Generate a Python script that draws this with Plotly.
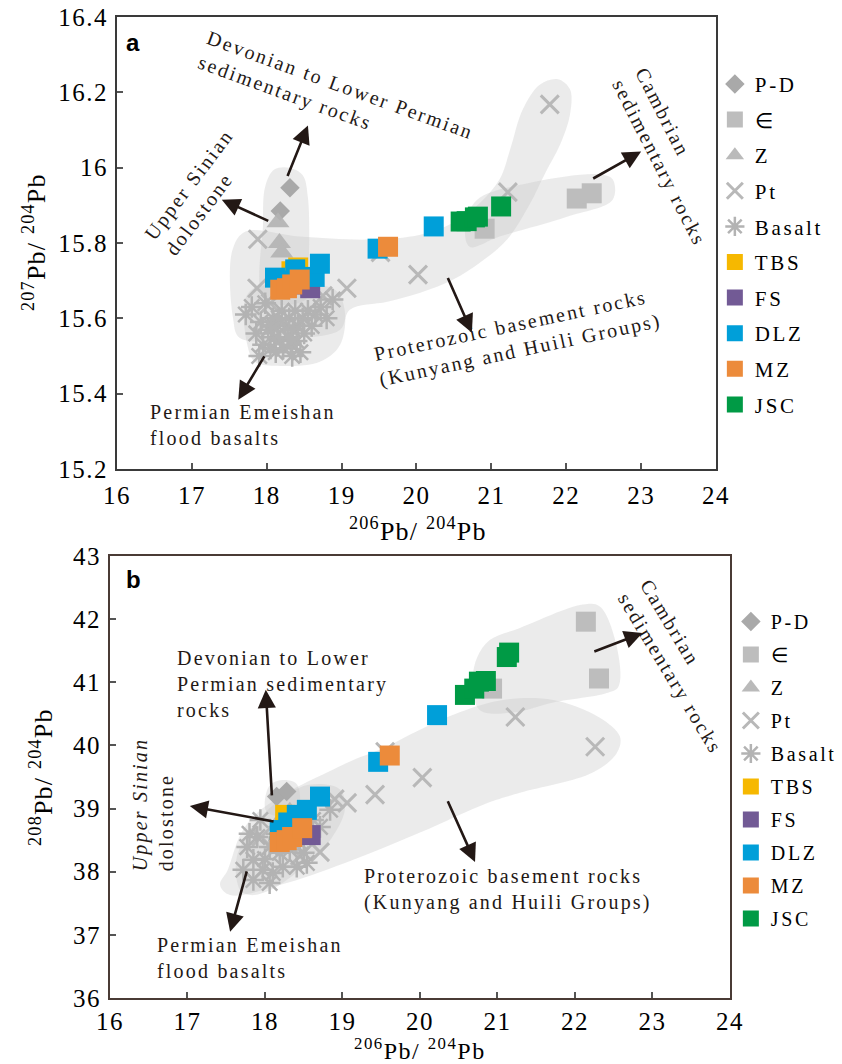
import plotly.graph_objects as go

FONT = "Liberation Serif"
INK = "#231815"

# ---------------- data: panel a (207Pb/204Pb vs 206Pb/204Pb) ----------------
PD_A_X = [18.31, 18.18]
PD_A_Y = [15.947, 15.885]
CAM_A_X = [20.91, 22.14, 22.34]
CAM_A_Y = [15.838, 15.918, 15.932]
Z_A_X = [18.15, 18.17, 18.20]
Z_A_Y = [15.855, 15.800, 15.775]
PT_A_X = [17.88, 17.87, 18.05, 18.75, 19.07, 19.52, 20.02, 21.22, 21.78]
PT_A_Y = [15.81, 15.68, 15.64, 15.66, 15.68, 15.775, 15.716, 15.935, 16.168]
BAS_A_X = [17.72, 17.80, 17.86, 17.92, 17.95, 17.98, 18.02, 18.05, 18.08, 18.10, 18.12, 18.15,
           18.18, 18.20, 18.22, 18.25, 18.28, 18.30, 18.32, 18.35, 18.38, 18.40, 18.42, 18.45,
           18.48, 18.50, 18.55, 18.60, 18.65, 18.72, 18.80, 18.88, 17.90, 18.06, 18.16, 18.34]
BAS_A_Y = [15.61, 15.63, 15.56, 15.59, 15.53, 15.64, 15.57, 15.52, 15.60, 15.55, 15.51, 15.58,
           15.54, 15.62, 15.52, 15.58, 15.55, 15.60, 15.53, 15.57, 15.62, 15.54, 15.58, 15.51,
           15.60, 15.56, 15.62, 15.58, 15.61, 15.63, 15.60, 15.65, 15.50, 15.58, 15.60, 15.50]
TBS_A_X = [18.33, 18.42]
TBS_A_Y = [15.725, 15.735]
FS_A_X = [18.52, 18.58]
FS_A_Y = [15.69, 15.68]
DLZ_A_X = [18.11, 18.25, 18.38, 18.64, 18.71, 19.48, 20.23]
DLZ_A_Y = [15.708, 15.70, 15.73, 15.71, 15.745, 15.785, 15.844]
MZ_A_X = [18.18, 18.27, 18.34, 18.44, 19.62]
MZ_A_Y = [15.676, 15.68, 15.69, 15.703, 15.79]
JSC_A_X = [20.59, 20.67, 20.78, 20.82, 21.13]
JSC_A_Y = [15.857, 15.858, 15.868, 15.870, 15.897]

# ---------------- data: panel b (208Pb/204Pb vs 206Pb/204Pb) ----------------
PD_B_X = [18.15, 18.28]
PD_B_Y = [39.19, 39.27]
CAM_B_X = [20.93, 22.14, 22.31]
CAM_B_Y = [40.90, 41.96, 41.06]
Z_B_X = [18.22, 18.32]
Z_B_Y = [38.85, 38.95]
PT_B_X = [17.95, 18.45, 18.71, 18.90, 19.06, 19.42, 19.55, 20.03, 21.23, 22.26]
PT_B_Y = [38.55, 38.25, 38.31, 39.15, 39.09, 39.22, 39.90, 39.49, 40.45, 39.98]
BAS_B_X = [17.72, 17.85, 17.90, 18.06, 18.19, 17.97, 17.85, 18.10, 18.32, 18.45, 18.54, 18.41,
           17.94, 17.77, 18.23, 18.06, 18.71, 18.62, 18.84, 17.80, 18.00, 18.15, 18.28, 18.50]
BAS_B_Y = [38.03, 38.19, 38.55, 38.39, 38.30, 38.03, 37.87, 37.98, 38.35, 38.46, 38.14, 38.08,
           38.82, 38.39, 38.08, 37.82, 38.71, 38.82, 38.98, 38.60, 38.20, 38.60, 38.65, 38.30]
TBS_B_X = [18.26]
TBS_B_Y = [38.90]
FS_B_X = [18.59]
FS_B_Y = [38.58]
DLZ_B_X = [18.19, 18.30, 18.41, 18.54, 18.71, 19.46, 20.22]
DLZ_B_Y = [38.66, 38.78, 38.90, 38.98, 39.19, 39.74, 40.48]
MZ_B_X = [18.19, 18.28, 18.35, 18.48, 19.61]
MZ_B_Y = [38.47, 38.50, 38.55, 38.69, 39.84]
JSC_B_X = [20.58, 20.70, 20.76, 20.85, 21.12, 21.15]
JSC_B_Y = [40.80, 40.90, 41.01, 41.02, 41.40, 41.47]

# ---------------- field envelopes (data units) ----------------
ENV_A_PT_X = [17.55, 17.54, 17.71, 18.44, 19.38, 20.05, 20.49, 20.85, 21.11, 21.25, 21.42, 21.65,
              21.89, 22.05, 22.05, 21.92, 21.71, 21.51, 21.21, 20.85, 20.49, 20.05, 19.61, 19.11,
              18.98, 18.44, 17.64]
ENV_A_PT_Y = [15.60, 15.78, 15.83, 15.817, 15.809, 15.822, 15.854, 15.907, 15.969, 16.048, 16.155,
              16.221, 16.235, 16.208, 16.141, 16.062, 15.982, 15.902, 15.809, 15.748, 15.703, 15.668,
              15.644, 15.623, 15.570, 15.548, 15.548]
ENV_A_SIN_X = [17.97, 17.95, 17.98, 18.10, 18.30, 18.48, 18.55, 18.56, 18.52]
ENV_A_SIN_Y = [15.65, 15.85, 15.95, 15.995, 16.00, 15.98, 15.92, 15.75, 15.65]
ENV_A_BAS_X = [17.71, 17.74, 17.84, 18.11, 18.71, 18.98, 19.04, 18.91, 18.31, 17.84]
ENV_A_BAS_Y = [15.649, 15.53, 15.485, 15.474, 15.485, 15.53, 15.623, 15.676, 15.689, 15.681]
ENV_A_CAM_X = [20.65, 20.81, 21.55, 22.45, 22.62, 22.62, 22.01, 21.11, 20.71]
ENV_A_CAM_Y = [15.844, 15.915, 15.961, 15.982, 15.969, 15.915, 15.870, 15.817, 15.790]

ENV_B_PT_X = [17.42, 17.52, 17.68, 17.87, 18.28, 18.80, 19.14, 19.48, 20.00, 20.52, 21.07, 21.72,
              22.32, 22.58, 22.54, 22.23, 21.29, 20.87, 20.00, 19.14, 18.28, 17.55]
ENV_B_PT_Y = [37.79, 38.03, 38.58, 38.90, 39.25, 39.57, 39.77, 39.93, 40.25, 40.53, 40.72, 40.72,
              40.44, 40.14, 39.88, 39.57, 39.25, 39.09, 38.62, 38.19, 37.82, 37.63]
ENV_B_SIN_X = [18.02, 18.05, 18.20, 18.40, 18.45, 18.35]
ENV_B_SIN_Y = [38.95, 39.35, 39.45, 39.40, 39.10, 38.90]
ENV_B_BAS_X = [17.68, 17.63, 17.81, 18.19, 18.58, 18.97, 19.03, 18.84, 18.45, 18.07, 17.81]
ENV_B_BAS_Y = [37.71, 38.19, 38.66, 39.14, 39.38, 39.30, 38.98, 38.50, 38.03, 37.71, 37.63]
ENV_B_CAM_X = [20.68, 20.74, 20.90, 21.29, 22.10, 22.32, 22.54, 22.56, 22.41, 21.72, 21.20, 20.77]
ENV_B_CAM_Y = [41.04, 41.40, 41.67, 41.86, 42.23, 42.20, 41.56, 40.93, 40.83, 40.68, 40.52, 40.56]

# ---------------- ticks ----------------
X_TICKS = [16, 17, 18, 19, 20, 21, 22, 23, 24]
X_TICK_LABELS = ["16", "17", "18", "19", "20", "21", "22", "23", "24"]
YA_TICKS = [15.2, 15.4, 15.6, 15.8, 16.0, 16.2, 16.4]
YA_TICK_LABELS = ["15.2", "15.4", "15.6", "15.8", "16", "16.2", "16.4"]
YB_TICKS = [36, 37, 38, 39, 40, 41, 42, 43]
YB_TICK_LABELS = ["36", "37", "38", "39", "40", "41", "42", "43"]

NAMES = ["P-D", "\u2208", "Z", "Pt", "Basalt", "TBS", "FS", "DLZ", "MZ", "JSC"]


def sp(t, ls):
    return f'<span style="letter-spacing:{ls}px">{t}</span>'


def lines(ls, *ts):
    return "<br>".join(sp(t, ls) for t in ts)


fig = go.Figure()

ENV_FILL = "rgba(200,200,200,0.36)"


def env(xs, ys, xa, ya):
    fig.add_trace(go.Scatter(x=xs + xs[:1], y=ys + ys[:1], mode="lines", fill="toself",
                             fillcolor=ENV_FILL, line=dict(width=0, shape="spline", smoothing=1.0),
                             hoverinfo="skip", showlegend=False, xaxis=xa, yaxis=ya))


env(ENV_A_PT_X, ENV_A_PT_Y, "x", "y")
env(ENV_A_SIN_X, ENV_A_SIN_Y, "x", "y")
env(ENV_A_BAS_X, ENV_A_BAS_Y, "x", "y")
env(ENV_A_CAM_X, ENV_A_CAM_Y, "x", "y")
env(ENV_B_PT_X, ENV_B_PT_Y, "x2", "y2")
env(ENV_B_SIN_X, ENV_B_SIN_Y, "x2", "y2")
env(ENV_B_BAS_X, ENV_B_BAS_Y, "x2", "y2")
env(ENV_B_CAM_X, ENV_B_CAM_Y, "x2", "y2")

STYLES = {
    "P-D": dict(symbol="diamond", size=15, color="#a9a9a9"),
    "\u2208": dict(symbol="square", size=20, color="#bdbdbd"),
    "Z": dict(symbol="triangle-up", size=20, color="#b3b3b3", opacity=0.9),
    "Pt": dict(symbol="x-thin-open", size=18, color="#b8b8b8", line=dict(width=3, color="#b8b8b8")),
    "Basalt": dict(symbol="asterisk-open", size=18, color="#b3b3b3", line=dict(width=2.5, color="#b3b3b3")),
    "TBS": dict(symbol="square", size=20, color="#f6b800"),
    "FS": dict(symbol="square", size=20, color="#725a95"),
    "DLZ": dict(symbol="square", size=20, color="#009fd9"),
    "MZ": dict(symbol="square", size=20, color="#ec8b3b"),
    "JSC": dict(symbol="square", size=20, color="#009a45"),
}

PANEL_A = [(PD_A_X, PD_A_Y), (CAM_A_X, CAM_A_Y), (Z_A_X, Z_A_Y), (PT_A_X, PT_A_Y), (BAS_A_X, BAS_A_Y),
           (TBS_A_X, TBS_A_Y), (FS_A_X, FS_A_Y), (DLZ_A_X, DLZ_A_Y), (MZ_A_X, MZ_A_Y), (JSC_A_X, JSC_A_Y)]
PANEL_B = [(PD_B_X, PD_B_Y), (CAM_B_X, CAM_B_Y), (Z_B_X, Z_B_Y), (PT_B_X, PT_B_Y), (BAS_B_X, BAS_B_Y),
           (TBS_B_X, TBS_B_Y), (FS_B_X, FS_B_Y), (DLZ_B_X, DLZ_B_Y), (MZ_B_X, MZ_B_Y), (JSC_B_X, JSC_B_Y)]

for panel, (xa, ya, leg, ls) in zip([PANEL_A, PANEL_B], [("x", "y", "legend", 2.6), ("x2", "y2", "legend2", 2.6)]):
    for name, (xs, ys) in zip(NAMES, panel):
        st = dict(STYLES[name])
        op = st.pop("opacity", 1.0)
        fig.add_trace(go.Scatter(x=xs, y=ys, mode="markers", name=sp(name, ls), marker=st, opacity=op,
                                 xaxis=xa, yaxis=ya, legend=leg, legendgroup=leg + name,
                                 hoverinfo="x+y"))

AX_COMMON = dict(showgrid=False, zeroline=False, showline=True, mirror=True, linewidth=2,
                 ticks="inside", ticklen=6, tickwidth=1.5, automargin=False,
                 tickfont=dict(family=FONT, size=25, color="black"))

fig.update_layout(
    width=842, height=1064, margin=dict(l=0, r=0, t=0, b=0, autoexpand=False),
    paper_bgcolor="white", plot_bgcolor="white",
    xaxis=dict(domain=[0.13895, 0.85036], range=[16, 24], anchor="y", tickvals=X_TICKS,
               ticktext=[sp(t, 1.5) for t in X_TICK_LABELS], linecolor="#3a3a3a", tickcolor="#555555",
               ticklabelstandoff=3, **AX_COMMON),
    yaxis=dict(domain=[0.55921, 0.98402], range=[15.2, 16.4], anchor="x", tickvals=YA_TICKS,
               ticktext=[sp(t, 1.5) for t in YA_TICK_LABELS], linecolor="#3a3a3a", tickcolor="#555555",
               ticklabelstandoff=2, **AX_COMMON),
    xaxis2=dict(domain=[0.13064, 0.86698], range=[16, 24], anchor="y2", tickvals=X_TICKS,
                ticktext=[sp(t, 1.5) for t in X_TICK_LABELS], linecolor="#4a3b35", tickcolor="#555555",
                ticklabelstandoff=0, **AX_COMMON),
    yaxis2=dict(domain=[0.06203, 0.47744], range=[36, 43], anchor="x2", tickvals=YB_TICKS,
                ticktext=[sp(t, 1.5) for t in YB_TICK_LABELS], linecolor="#4a3b35", tickcolor="#555555",
                ticklabelstandoff=2, **AX_COMMON),
    legend=dict(x=0.849, xanchor="left", y=0.940, yanchor="top", tracegroupgap=5.3,
                font=dict(family=FONT, size=21, color="black"), bgcolor="rgba(0,0,0,0)",
                itemclick=False, itemdoubleclick=False),
    legend2=dict(x=0.868, xanchor="left", y=0.4342, yanchor="top", tracegroupgap=4,
                 font=dict(family=FONT, size=20, color="black"), bgcolor="rgba(0,0,0,0)",
                 itemclick=False, itemdoubleclick=False),
)

ARROW = dict(text="", showarrow=True, arrowhead=2, arrowsize=1.4, arrowwidth=2.6, arrowcolor=INK,
             standoff=0, startstandoff=0)

# arrows: (head x, head y, tail x, tail y)
ARROWS_A = [(18.55, 16.112, 18.27, 15.974), (17.40, 15.915, 18.04, 15.857), (23.00, 16.043, 22.34, 15.969),
            (20.74, 15.562, 20.41, 15.711), (17.62, 15.384, 17.98, 15.503)]
ARROWS_B = [(18.01, 40.88, 18.09, 39.185), (17.03, 39.04, 18.13, 38.79), (17.55, 37.05, 17.77, 38.03),
            (20.71, 38.155, 20.35, 39.14), (22.87, 41.78, 22.23, 41.48)]

ann = []
for (hx, hy, tx, ty) in ARROWS_A:
    ann.append(dict(x=hx, y=hy, ax=tx, ay=ty, xref="x", yref="y", axref="x", ayref="y", **ARROW))
for (hx, hy, tx, ty) in ARROWS_B:
    ann.append(dict(x=hx, y=hy, ax=tx, ay=ty, xref="x2", yref="y2", axref="x2", ayref="y2", **ARROW))

TF = dict(family=FONT, size=20, color=INK)
LS = 2.2


def label(x, y, xr, yr, text, angle=0, xanchor="center"):
    ann.append(dict(x=x, y=y, xref=xr, yref=yr, text=text, showarrow=False, textangle=angle,
                    xanchor=xanchor, yanchor="middle", align="left", font=TF))


# panel a labels
label(18.92, 16.187, "x", "y", lines(LS, "Devonian to Lower Permian", "sedimentary rocks"), 20)
label(17.10, 15.935, "x", "y", lines(LS, "Upper Sinian", "dolostone"), -53)
label(23.39, 16.029, "x", "y", lines(LS, "Cambrian", "sedimentary rocks"), 63)
label(21.35, 15.548, "x", "y", lines(LS, "Proterozoic basement rocks", "(Kunyang and Huili Groups)"), -12)
label(16.414, 15.316, "x", "y", lines(LS, "Permian Emeishan", "flood basalts"), 0, "left")

# panel b labels
label(16.84, 40.976, "x2", "y2", lines(LS, "Devonian to Lower", "Permian sedimentary", "rocks"), 0, "left")
label(16.548, 39.074, "x2", "y2", sp("<i>Upper Sinian</i>", LS) + "<br>" + sp("dolostone", LS), -90)
label(23.37, 41.255, "x2", "y2", lines(LS, "Cambrian", "sedimentary rocks"), 59)
label(19.25, 37.719, "x2", "y2", lines(LS, "Proterozoic basement rocks", "(Kunyang and Huili Groups)"), 0, "left")
label(16.58, 36.626, "x2", "y2", lines(LS, "Permian Emeishan", "flood basalts"), 0, "left")

# panel letters
PF = dict(family="Liberation Sans", size=24, color="black")
ann.append(dict(x=16.09, y=16.333, xref="x", yref="y", text="<b>a</b>", showarrow=False,
                xanchor="left", yanchor="middle", font=PF))
ann.append(dict(x=16.18, y=42.62, xref="x2", yref="y2", text="<b>b</b>", showarrow=False,
                xanchor="left", yanchor="middle", font=PF))

# axis titles
AF = dict(family=FONT, size=26, color="black")
AF_B = dict(family=FONT, size=24, color="black")
XT = sp("<sup>206</sup>Pb/ <sup>204</sup>Pb", 1.2)
ann.append(dict(x=0.4964, y=0.5019, xref="paper", yref="paper", text=XT, showarrow=False,
                xanchor="center", yanchor="middle", font=AF))
ann.append(dict(x=0.0416, y=0.7726, xref="paper", yref="paper",
                text=sp("<sup>207</sup>Pb/ <sup>204</sup>Pb", 1.2), showarrow=False, textangle=-90,
                xanchor="center", yanchor="middle", font=AF))
ann.append(dict(x=0.4988, y=0.0140, xref="paper", yref="paper", text=sp("<sup>206</sup>Pb/ <sup>204</sup>Pb", 1.5),
                showarrow=False, xanchor="center", yanchor="middle", font=AF_B))
ann.append(dict(x=0.0499, y=0.2698, xref="paper", yref="paper",
                text=sp("<sup>208</sup>Pb/ <sup>204</sup>Pb", 1.2), showarrow=False, textangle=-90,
                xanchor="center", yanchor="middle", font=AF))

fig.update_layout(annotations=ann)
fig.write_html("out.html", config={"displayModeBar": False},
               post_script="document.body.style.margin='0px';")
